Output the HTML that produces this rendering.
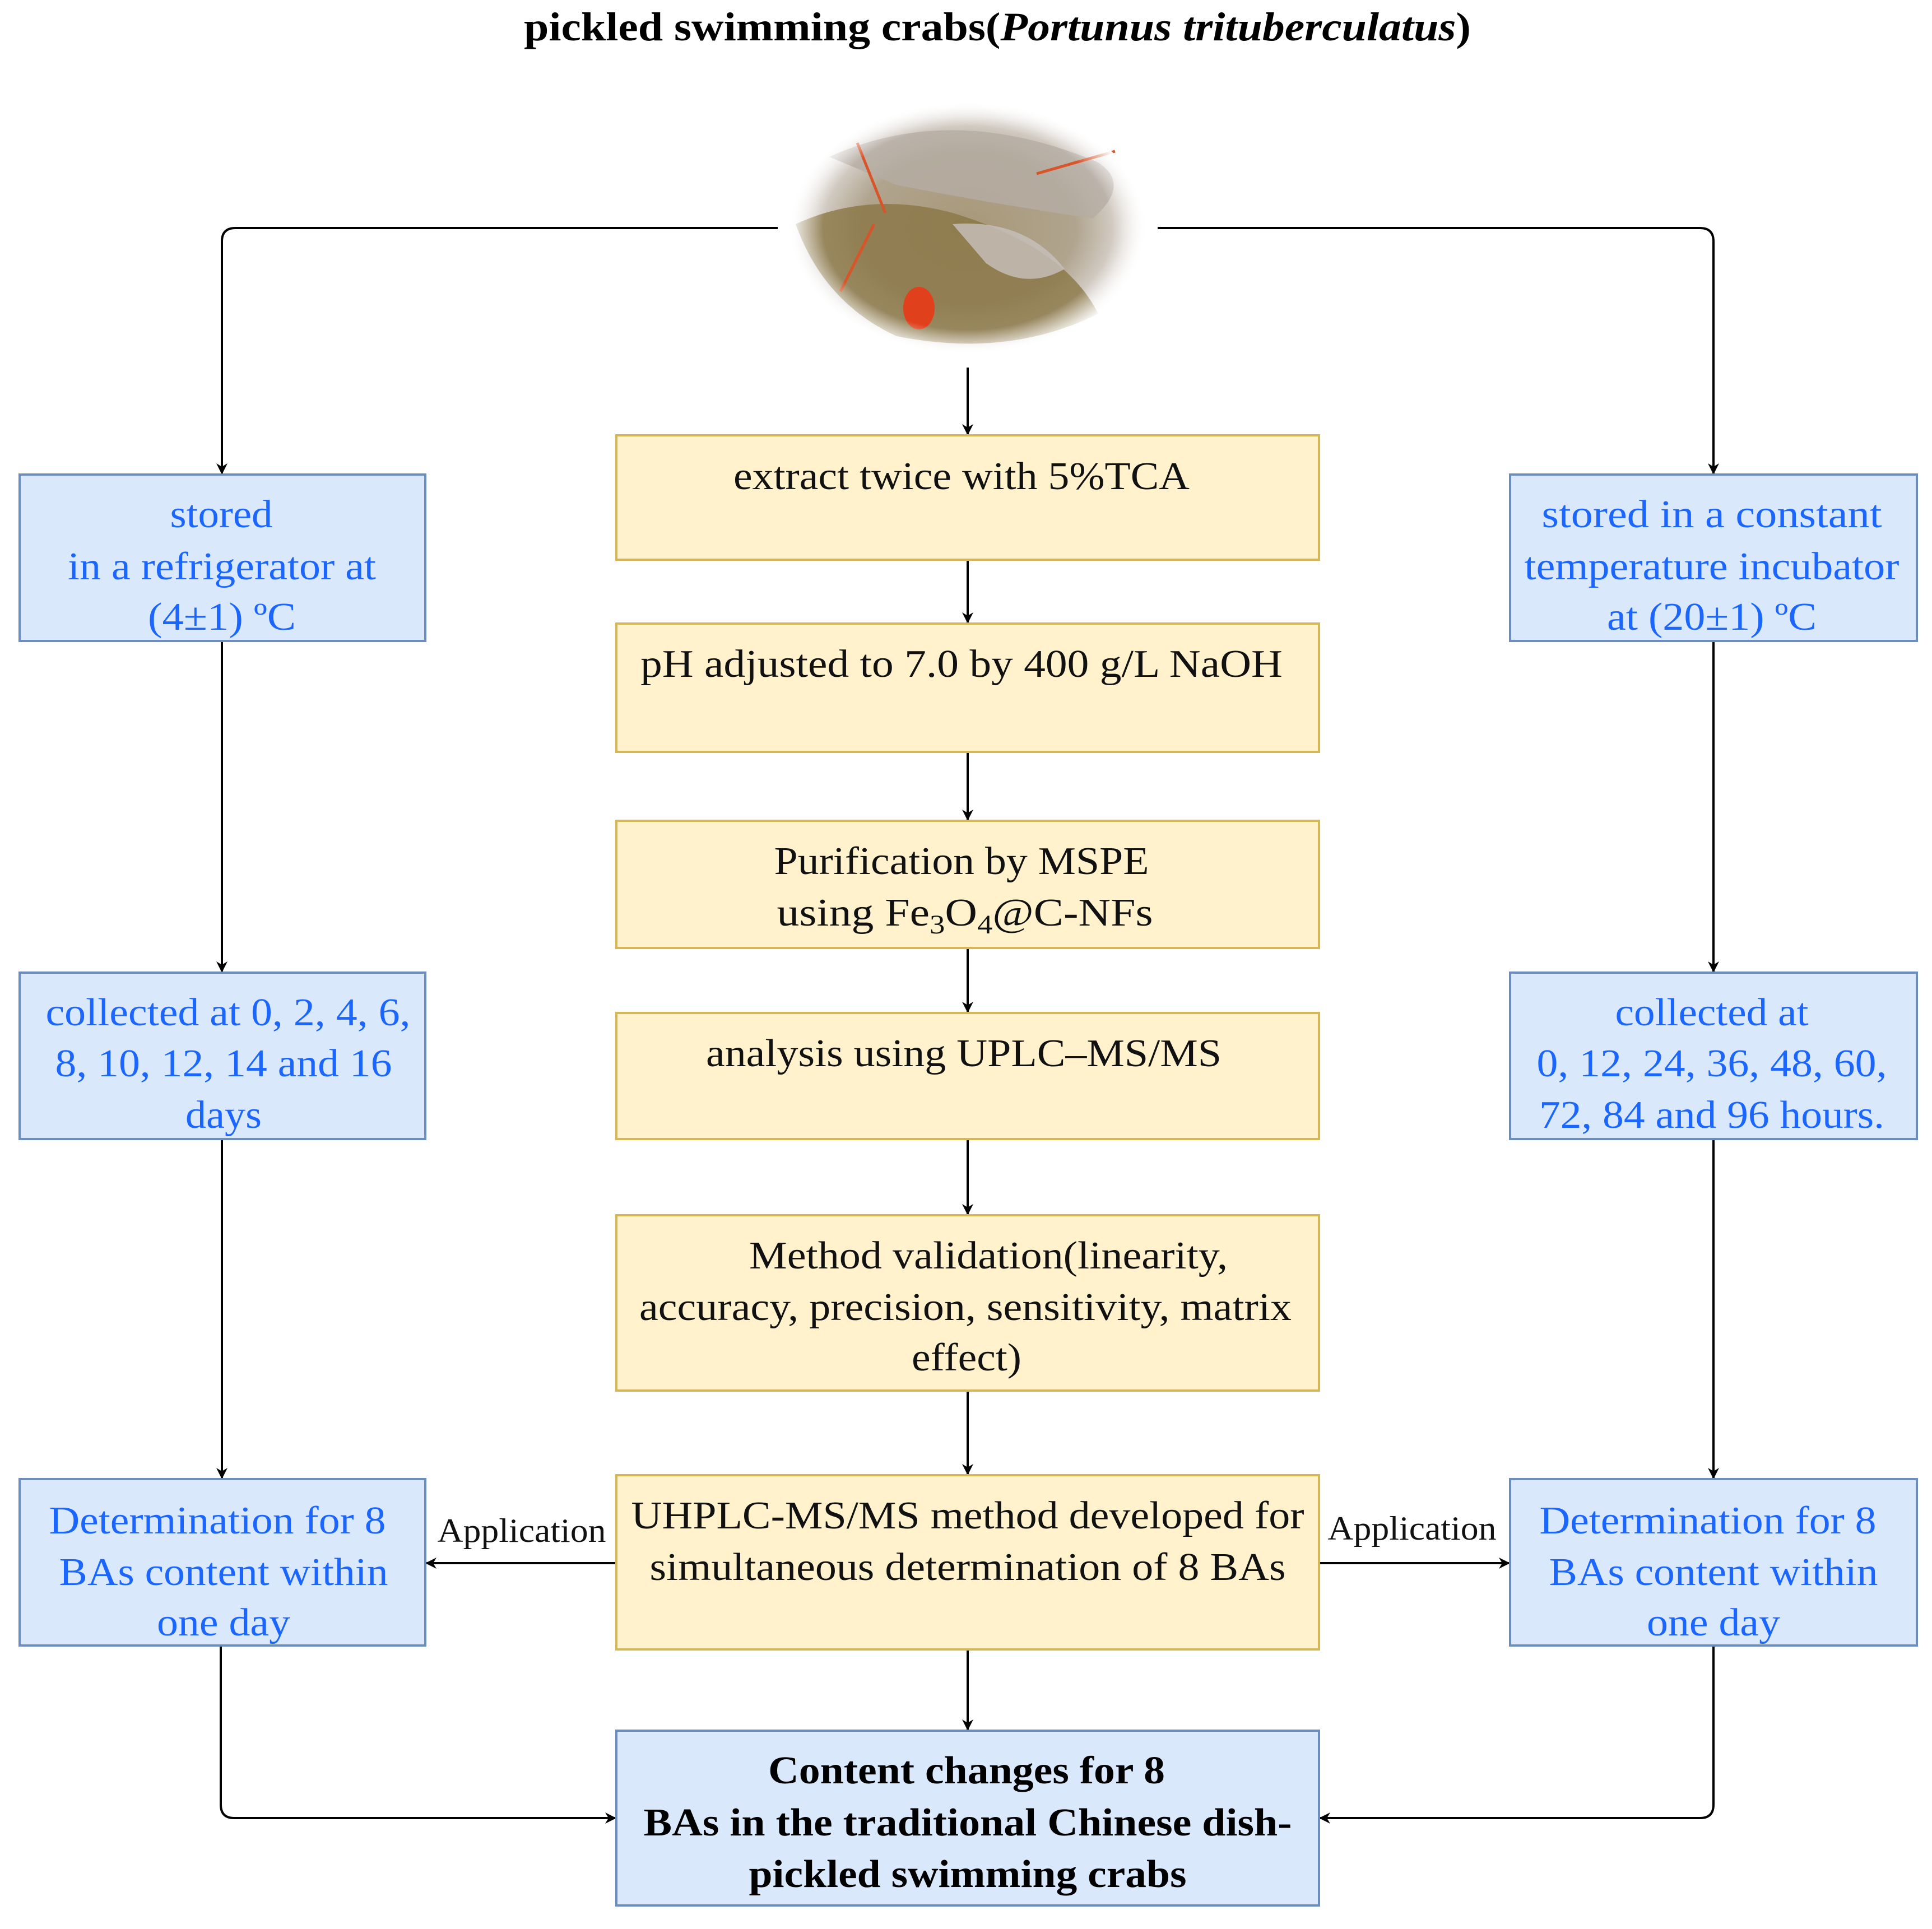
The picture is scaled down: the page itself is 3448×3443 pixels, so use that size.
<!DOCTYPE html>
<html><head><meta charset="utf-8"><style>
html,body{margin:0;padding:0;background:#fff;}
svg{display:block;}
text{font-family:"Liberation Serif",serif;}
.b{fill:#1a66ff;font-size:70px;}
.k{fill:#111;font-size:70px;}
.bb{fill:#000;font-size:70px;font-weight:bold;}
.ap{fill:#111;font-size:60px;}
</style></head><body>
<svg width="3448" height="3443" viewBox="0 0 3448 3443" xmlns="http://www.w3.org/2000/svg">
<defs>
<marker id="ar" viewBox="0 0 20 20" refX="18" refY="10" markerWidth="20" markerHeight="20" markerUnits="userSpaceOnUse" orient="auto">
<path d="M0,0 L20,10 L0,20 L6,10 Z" fill="#000"/></marker>
<radialGradient id="cg" cx="50%" cy="50%" r="50%">
<stop offset="0" stop-color="#a89878"/><stop offset="0.6" stop-color="#b0a48e"/><stop offset="0.85" stop-color="#d8d2cc"/><stop offset="1" stop-color="#ffffff"/></radialGradient>
<radialGradient id="fade" cx="50%" cy="50%" r="50%">
<stop offset="0.8" stop-color="#fff" stop-opacity="0"/><stop offset="1" stop-color="#fff" stop-opacity="1"/></radialGradient>
</defs>

<text x="1780" y="72" text-anchor="middle" textLength="1690" lengthAdjust="spacingAndGlyphs" style="font-size:72px;font-weight:bold;fill:#000">pickled swimming crabs(<tspan font-style="italic">Portunus trituberculatus</tspan>)</text>

<!-- crab -->
<ellipse cx="1727" cy="407" rx="320" ry="225" fill="url(#cg)"/>
<path d="M1480,280 Q1700,180 1960,290 Q2020,330 1950,390 Q1750,360 1600,330 Z" fill="#b5aca4" opacity="0.8"/>
<path d="M1420,400 Q1550,340 1700,380 Q1900,440 1960,560 Q1800,640 1600,600 Q1470,540 1420,400Z" fill="#8a7545" opacity="0.8"/>
<path d="M1700,400 Q1830,390 1900,480 Q1830,520 1760,470Z" fill="#c8c2bd" opacity="0.8"/>
<ellipse cx="1640" cy="550" rx="28" ry="38" fill="#e0401c"/>
<path d="M1530,255 L1580,380 M1850,310 L1990,270 M1500,520 L1560,400" stroke="#d8552a" stroke-width="5" fill="none"/>
<ellipse cx="1727" cy="407" rx="322" ry="227" fill="url(#fade)"/>

<g stroke="#000" stroke-width="4" fill="none">
<path d="M1388,407 L420,407 Q396,407 396,431 L396,845" marker-end="url(#ar)"/>
<path d="M2066,407 L3034,407 Q3058,407 3058,431 L3058,845" marker-end="url(#ar)"/>
<path d="M1727,656 L1727,775" marker-end="url(#ar)"/>
<path d="M1727,999 L1727,1111" marker-end="url(#ar)"/>
<path d="M1727,1342 L1727,1463" marker-end="url(#ar)"/>
<path d="M1727,1692 L1727,1806" marker-end="url(#ar)"/>
<path d="M1727,2033 L1727,2167" marker-end="url(#ar)"/>
<path d="M1727,2482 L1727,2631" marker-end="url(#ar)"/>
<path d="M1727,2944 L1727,3087" marker-end="url(#ar)"/>
<path d="M396,1144 L396,1734" marker-end="url(#ar)"/>
<path d="M396,2033 L396,2638" marker-end="url(#ar)"/>
<path d="M3058,1144 L3058,1734" marker-end="url(#ar)"/>
<path d="M3058,2033 L3058,2638" marker-end="url(#ar)"/>
<path d="M1100,2790 L761,2790" marker-end="url(#ar)"/>
<path d="M2354,2790 L2693,2790" marker-end="url(#ar)"/>
<path d="M394,2937 L394,3221 Q394,3245 418,3245 L1098,3245" marker-end="url(#ar)"/>
<path d="M3058,2937 L3058,3221 Q3058,3245 3034,3245 L2356,3245" marker-end="url(#ar)"/>
</g>

<g fill="#dae8fc" stroke="#6c8ebf" stroke-width="4">
<rect x="35" y="847" width="724" height="297"/>
<rect x="2695" y="847" width="726" height="297"/>
<rect x="35" y="1736" width="724" height="297"/>
<rect x="2695" y="1736" width="726" height="297"/>
<rect x="35" y="2640" width="724" height="297"/>
<rect x="2695" y="2640" width="726" height="297"/>
<rect x="1100" y="3089" width="1254" height="312"/>
</g>
<g fill="#fff2cc" stroke="#d6b656" stroke-width="4">
<rect x="1100" y="777" width="1254" height="222"/>
<rect x="1100" y="1113" width="1254" height="229"/>
<rect x="1100" y="1465" width="1254" height="227"/>
<rect x="1100" y="1808" width="1254" height="225"/>
<rect x="1100" y="2169" width="1254" height="313"/>
<rect x="1100" y="2633" width="1254" height="311"/>
</g>

<g text-anchor="middle" lengthAdjust="spacingAndGlyphs">
<text class="b" x="395" y="941" textLength="183" lengthAdjust="spacingAndGlyphs">stored</text>
<text class="b" x="396" y="1034" textLength="550" lengthAdjust="spacingAndGlyphs">in a refrigerator at</text>
<text class="b" x="396" y="1124" textLength="264" lengthAdjust="spacingAndGlyphs">(4±1) ºC</text>
<text class="b" x="3055" y="941" textLength="607" lengthAdjust="spacingAndGlyphs">stored in  a constant</text>
<text class="b" x="3055" y="1034" textLength="669" lengthAdjust="spacingAndGlyphs">temperature incubator</text>
<text class="b" x="3055" y="1124" textLength="374" lengthAdjust="spacingAndGlyphs">at (20±1) ºC</text>
<text class="b" x="407" y="1830" textLength="651" lengthAdjust="spacingAndGlyphs">collected at 0, 2, 4, 6,</text>
<text class="b" x="399" y="1921" textLength="601" lengthAdjust="spacingAndGlyphs">8, 10, 12, 14 and 16</text>
<text class="b" x="399" y="2013" textLength="136" lengthAdjust="spacingAndGlyphs">days</text>
<text class="b" x="3055" y="1830" textLength="345" lengthAdjust="spacingAndGlyphs">collected at</text>
<text class="b" x="3055" y="1921" textLength="625" lengthAdjust="spacingAndGlyphs">0, 12, 24, 36, 48, 60,</text>
<text class="b" x="3055" y="2013" textLength="616" lengthAdjust="spacingAndGlyphs">72, 84 and 96 hours.</text>
<text class="b" x="388" y="2737" textLength="601" lengthAdjust="spacingAndGlyphs">Determination for 8</text>
<text class="b" x="399" y="2829" textLength="587" lengthAdjust="spacingAndGlyphs">BAs content within</text>
<text class="b" x="399" y="2919" textLength="238" lengthAdjust="spacingAndGlyphs">one day</text>
<text class="b" x="3048" y="2737" textLength="601" lengthAdjust="spacingAndGlyphs">Determination for 8</text>
<text class="b" x="3058" y="2829" textLength="587" lengthAdjust="spacingAndGlyphs">BAs content within</text>
<text class="b" x="3058" y="2919" textLength="238" lengthAdjust="spacingAndGlyphs">one day</text>

<text class="k" x="1716" y="873" textLength="814" lengthAdjust="spacingAndGlyphs">extract twice with 5%TCA</text>
<text class="k" x="1716" y="1208" textLength="1146" lengthAdjust="spacingAndGlyphs">pH  adjusted to 7.0 by 400 g/L NaOH</text>
<text class="k" x="1716" y="1560" textLength="669" lengthAdjust="spacingAndGlyphs">Purification by MSPE</text>
<text class="k" x="1722" y="1652" textLength="671" lengthAdjust="spacingAndGlyphs">using  Fe<tspan font-size="48" dy="14">3</tspan><tspan dy="-14">O</tspan><tspan font-size="48" dy="14">4</tspan><tspan dy="-14">@C-NFs</tspan></text>
<text class="k" x="1720" y="1903" textLength="920" lengthAdjust="spacingAndGlyphs">analysis using UPLC–MS/MS</text>
<text class="k" x="1764" y="2264" textLength="854" lengthAdjust="spacingAndGlyphs">Method validation(linearity,</text>
<text class="k" x="1723" y="2356" textLength="1164" lengthAdjust="spacingAndGlyphs">accuracy, precision, sensitivity, matrix</text>
<text class="k" x="1725" y="2446" textLength="196" lengthAdjust="spacingAndGlyphs">effect)</text>
<text class="k" x="1727" y="2728" textLength="1201" lengthAdjust="spacingAndGlyphs">UHPLC-MS/MS method developed for</text>
<text class="k" x="1727" y="2820" textLength="1135" lengthAdjust="spacingAndGlyphs">simultaneous determination of 8 BAs</text>
<text class="bb" x="1725" y="3183" textLength="708" lengthAdjust="spacingAndGlyphs">Content changes for 8</text>
<text class="bb" x="1727" y="3276" textLength="1157" lengthAdjust="spacingAndGlyphs">BAs in the traditional Chinese dish-</text>
<text class="bb" x="1727" y="3368" textLength="781" lengthAdjust="spacingAndGlyphs">pickled swimming crabs</text>
<text class="ap" x="931" y="2752" textLength="301" lengthAdjust="spacingAndGlyphs">Application</text>
<text class="ap" x="2520" y="2748" textLength="301" lengthAdjust="spacingAndGlyphs">Application</text>
</g>
</svg>
</body></html>
